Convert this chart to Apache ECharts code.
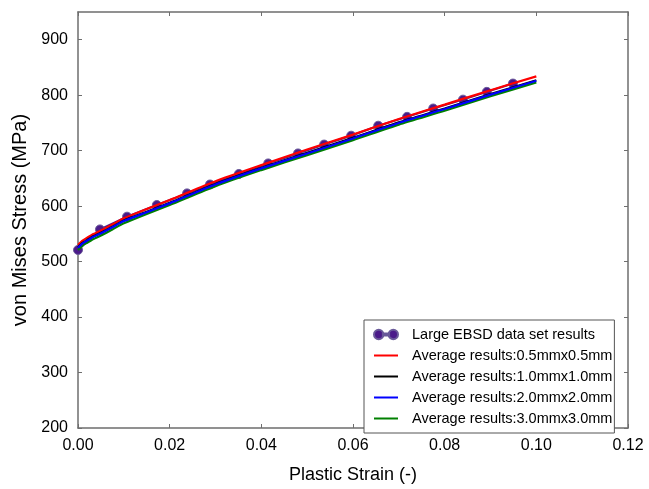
<!DOCTYPE html>
<html>
<head>
<meta charset="utf-8">
<script src="https://cdn.jsdelivr.net/npm/echarts@6/dist/echarts.min.js"></script>
<style>
html,body{margin:0;padding:0;background:#fff;}
#chart{width:649px;height:489px;}
</style>
</head>
<body>
<div id="chart"></div>
<script>
// ---- data ----
const ebsdStrain = [0, 0.0048, 0.0107, 0.0172, 0.0238, 0.0288, 0.0351, 0.0415, 0.048, 0.0537, 0.0596, 0.0655, 0.0718, 0.0775, 0.084, 0.0892, 0.0949];
const ebsdStress = [521, 558, 581, 602, 623, 639, 658, 677, 695, 711, 727, 745, 761, 776, 792, 806, 821];

const avgStrain = [0, 0.001, 0.002, 0.003, 0.005, 0.0075, 0.01, 0.015, 0.02, 0.03, 0.04, 0.05, 0.06, 0.07, 0.08, 0.09, 0.1];
const avg05 = [530, 538, 543, 548, 556, 567, 578, 595, 611, 645, 674, 702, 729, 757, 783, 809, 834];
const avg10 = [526, 534, 539, 544, 552, 563, 574, 590, 606, 640, 669, 696, 723, 751, 776, 802, 827];
const avg20 = [525, 533, 538, 543, 551, 562, 573, 589, 605, 639, 668, 695, 722, 750, 775, 801, 826];
const avg30 = [521, 529, 534, 539, 547, 558, 569, 586, 602, 636, 665, 692, 719, 747, 772, 798, 823];

const seriesNames = [
  'Large EBSD data set results',
  'Average results:0.5mmx0.5mm',
  'Average results:1.0mmx1.0mm',
  'Average results:2.0mmx2.0mm',
  'Average results:3.0mmx3.0mm'
];
const xTicks = [0, 0.02, 0.04, 0.06, 0.08, 0.10, 0.12];
const yTicks = [200, 300, 400, 500, 600, 700, 800, 900];

const pairs = (xs, ys) => xs.map((x, i) => [x, ys[i]]);

const FONT = '"Liberation Sans", Arial, Helvetica, sans-serif';
const frameColor = '#6e6e6e';

const chart = echarts.init(document.getElementById('chart'), null, {renderer: 'canvas'});

const lineIcon = 'path://M0,0H24V2H0Z';
const dotIcon = 'path://M0.5,5A4.5,4.5 0 1,0 9.5,5A4.5,4.5 0 1,0 0.5,5Z M14.5,5A4.5,4.5 0 1,0 23.5,5A4.5,4.5 0 1,0 14.5,5Z M9,4H15V6H9Z';

function mkX(pos, labels) {
  return {
    type: 'value', position: pos, min: 0, max: 0.12, interval: 0.02,
    axisLine: {show: true, onZero: false, lineStyle: {color: frameColor, width: 1.5}},
    axisTick: {show: true, inside: true, length: 4, lineStyle: {color: frameColor, width: 1}, customValues: xTicks},
    axisLabel: {show: labels, color: '#000', fontSize: 16, fontFamily: FONT, margin: 10,
      customValues: xTicks, formatter: v => v.toFixed(2)},
    splitLine: {show: false},
    name: labels ? 'Plastic Strain (-)' : '',
    nameLocation: 'middle', nameGap: 38,
    nameTextStyle: {color: '#000', fontSize: 18, fontFamily: FONT}
  };
}
function mkY(pos, labels) {
  return {
    type: 'value', position: pos, min: 200, max: 950,
    axisLine: {show: true, onZero: false, lineStyle: {color: frameColor, width: 1.5}},
    axisTick: {show: true, inside: true, length: 4, lineStyle: {color: frameColor, width: 1}, customValues: yTicks},
    axisLabel: {show: labels, color: '#000', fontSize: 16, fontFamily: FONT, margin: 10, customValues: yTicks},
    splitLine: {show: false},
    name: labels ? 'von Mises Stress (MPa)' : '',
    nameLocation: 'middle', nameGap: 35,
    nameTextStyle: {color: '#000', fontSize: 20, fontFamily: FONT}
  };
}

const option = {
  animation: false,
  backgroundColor: '#fff',
  grid: {left: 78, right: 21, top: 12, bottom: 52, containLabel: false},
  xAxis: [mkX('bottom', true), mkX('top', false)],
  yAxis: [mkY('left', true), mkY('right', false)],
  legend: {
    orient: 'vertical', left: 364, top: 320,
    backgroundColor: '#fff',
    borderColor: '#555', borderWidth: 1, borderRadius: 0,
    padding: [7, 2, 7, 9],
    itemWidth: 24, itemHeight: 10, itemGap: 6,
    textStyle: {color: '#000', fontSize: 14.5, fontFamily: FONT, padding: [0, 0, 0, 9]},
    data: [
      {name: seriesNames[0], icon: dotIcon},
      {name: seriesNames[1], icon: lineIcon},
      {name: seriesNames[2], icon: lineIcon},
      {name: seriesNames[3], icon: lineIcon},
      {name: seriesNames[4], icon: lineIcon}
    ]
  },
  series: [
    {
      name: seriesNames[0], type: 'line', data: pairs(ebsdStrain, ebsdStress),
      symbol: 'circle', symbolSize: 9, showSymbol: true,
      lineStyle: {color: '#4b1a8a', width: 2},
      itemStyle: {color: '#4b1a8a', borderColor: '#6a5a9a', borderWidth: 1},
      z: 1
    },
    {
      name: seriesNames[1], type: 'line', data: pairs(avgStrain, avg05), symbol: 'none',
      smooth: 0.2, lineStyle: {color: '#ff0000', width: 2.2}, itemStyle: {color: '#ff0000'}, z: 2
    },
    {
      name: seriesNames[2], type: 'line', data: pairs(avgStrain, avg10), symbol: 'none',
      smooth: 0.2, lineStyle: {color: '#000000', width: 2.2}, itemStyle: {color: '#000000'}, z: 3
    },
    {
      name: seriesNames[3], type: 'line', data: pairs(avgStrain, avg20), symbol: 'none',
      smooth: 0.2, lineStyle: {color: '#0000ff', width: 2.2}, itemStyle: {color: '#0000ff'}, z: 4
    },
    {
      name: seriesNames[4], type: 'line', data: pairs(avgStrain, avg30), symbol: 'none',
      smooth: 0.2, lineStyle: {color: '#008000', width: 2.2}, itemStyle: {color: '#008000'}, z: 3
    }
  ]
};
chart.setOption(option);
</script>
</body>
</html>
